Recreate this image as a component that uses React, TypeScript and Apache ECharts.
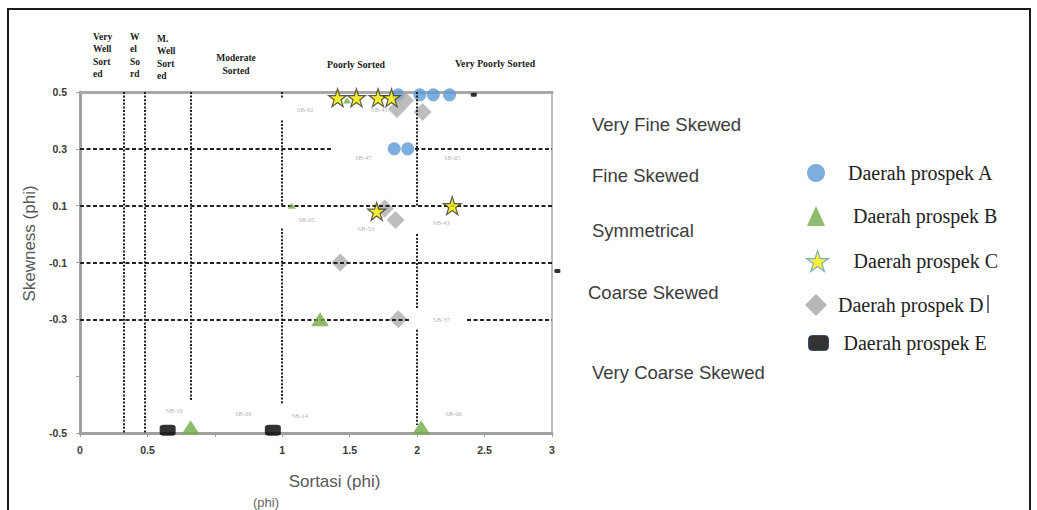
import React, { useEffect, useRef } from "react";
import * as echarts from "echarts";

// ---- data (internal axis units: x 0..3.5, y -0.7..0.5) ----
const seriesNames = [
  "Daerah prospek A",
  "Daerah prospek B",
  "Daerah prospek C",
  "Daerah prospek D",
  "Daerah prospek E",
];

const aX = [2.36, 2.52, 2.62, 2.74, 2.33, 2.43];
const aY = [0.49, 0.49, 0.49, 0.49, 0.3, 0.3];

const bX = [1.98, 1.57, 1.78, 0.82, 2.53];
const bY = [0.47, 0.1, -0.3, -0.68, -0.68];

const cX = [1.91, 2.05, 2.21, 2.31, 2.2, 2.76];
const cY = [0.48, 0.48, 0.48, 0.48, 0.08, 0.1];

const dX = [2.35, 2.41, 2.54, 2.26, 2.34, 1.93, 2.36];
const dY = [0.44, 0.47, 0.43, 0.09, 0.05, -0.1, -0.3];

const eX = [0.65, 1.43, 2.92, 3.54];
const eY = [-0.69, -0.69, 0.49, -0.13];

const sampleNames = ["SB-02", "SB-41", "SB-47", "SB-65", "SB-05", "SB-53", "SB-43", "SB-37", "SB-19", "SB-09", "SB-14", "SB-06"];
const sampleX = [1.67, 2.22, 2.1, 2.76, 1.68, 2.12, 2.68, 2.68, 0.7, 1.21, 1.63, 2.77];
const sampleY = [0.44, 0.44, 0.27, 0.27, 0.05, 0.02, 0.04, -0.3, -0.62, -0.63, -0.64, -0.63];

const xTickLabels = ["0", "0.5", "", "1", "1.5", "2", "2.5", "3"];
const yTickValues = [0.5, 0.3, 0.1, -0.1, -0.3, -0.5, -0.7];
const yTickLabels = ["0.5", "0.3", "0.1", "-0.1", "-0.3", "", "-0.5"];

const sortingClasses = ["Very\nWell\nSort\ned", "W\nel\nSo\nrd", "M.\nWell\nSort\ned", "Moderate\nSorted", "Poorly Sorted", "Very Poorly Sorted"];
const skewClasses = ["Very Fine Skewed", "Fine Skewed", "Symmetrical", "Coarse Skewed", "Very Coarse Skewed"];

// class boundary lines, drawn as segments [x1, y1, x2, y2]
const verticalBounds = [
  [0.326, 0.5, 0.326, -0.7],
  [0.482, 0.5, 0.482, -0.7],
  [0.823, 0.5, 0.823, -0.585],
  [1.498, 0.5, 1.498, 0.48],
  [1.498, 0.4, 1.498, 0.1],
  [1.498, 0.02, 1.498, -0.6],
  [2.499, 0.5, 2.499, 0.1],
  [2.499, 0.0, 2.499, -0.26],
  [2.499, -0.337, 2.499, -0.672],
];
const horizontalBounds = [
  [0, 0.3, 1.876, 0.3],
  [2.484, 0.3, 3.5, 0.3],
  [0, 0.1, 3.5, 0.1],
  [0, -0.1, 3.5, -0.1],
  [0, -0.3, 2.447, -0.3],
  [2.87, -0.3, 3.5, -0.3],
];

const starPath =
  "path://M50,2 L61.2,36.6 L97.6,36.6 L68.2,58 L79.4,92.6 L50,71.2 L20.6,92.6 L31.8,58 L2.4,36.6 L38.8,36.6 Z";

const zip = (xs: number[], ys: number[]) => xs.map((x, i) => [x, ys[i]]);

export default function App() {
  const ref = useRef<HTMLDivElement>(null);

  useEffect(() => {
    if (!ref.current) return;
    const chart = echarts.init(ref.current, null, { renderer: "svg" });

    const smallB = new Set([0, 1]);
    const smallE = new Set([2, 3]);
    const sans = "Liberation Sans";
    const serif = "Liberation Serif";

    const segs = (arr: number[][], type: any, width: number) =>
      arr.map((s) => [
        { coord: [s[0], s[1]], lineStyle: { type, width, color: "#222" } },
        { coord: [s[2], s[3]] },
      ]);

    const legendText = (pad: number) => ({
      fontFamily: serif,
      fontSize: 20,
      color: "#222",
      padding: [0, 0, 0, pad],
    });

    const option: any = {
      animation: false,
      backgroundColor: "#fff",
      grid: {
        left: 80,
        top: 92,
        width: 472,
        height: 341,
        show: true,
        borderColor: "#a8a8a8",
        borderWidth: 1.5,
      },
      xAxis: [
        {
          type: "value",
          min: 0,
          max: 3.5,
          interval: 0.5,
          name: "Sortasi (phi)",
          nameLocation: "middle",
          nameGap: 40,
          nameTextStyle: { fontFamily: sans, fontSize: 17, color: "#595959", padding: [0, 0, 0, 37] },
          axisLine: { onZero: false, lineStyle: { color: "#a0a0a0", width: 3 } },
          axisTick: { show: true, length: 4, lineStyle: { color: "#a0a0a0" } },
          axisLabel: {
            margin: 11,
            fontFamily: sans,
            fontSize: 10.5,
            fontWeight: "bold",
            color: "#3a3a3a",
            formatter: (v: number) => xTickLabels[Math.round(v / 0.5)] ?? "",
          },
          splitLine: { show: false },
        },
        {
          type: "value",
          position: "top",
          min: 0,
          max: 3.5,
          axisLine: { show: true, onZero: false, lineStyle: { color: "#a8a8a8", width: 3 } },
          axisTick: { show: false },
          axisLabel: { show: false },
          splitLine: { show: false },
        },
      ],
      yAxis: {
        type: "value",
        min: -0.7,
        max: 0.5,
        name: "Skewness (phi)",
        nameLocation: "middle",
        nameGap: 42,
        nameTextStyle: { fontFamily: sans, fontSize: 17, color: "#595959", padding: [0, 0, 0, 38] },
        axisLine: { show: true, onZero: false, lineStyle: { color: "#a0a0a0", width: 3 } },
        axisTick: { show: true, length: 4, customValues: yTickValues, lineStyle: { color: "#a0a0a0" } },
        axisLabel: {
          customValues: yTickValues,
          margin: 13,
          fontFamily: sans,
          fontSize: 10.5,
          fontWeight: "bold",
          color: "#3a3a3a",
          formatter: (v: number) => yTickLabels[Math.round((0.5 - v) / 0.2)] ?? "",
        },
        splitLine: { show: false },
      },
      legend: [
        { left: 807, top: 163, itemWidth: 18, itemHeight: 18, pad: 18, icon: "circle", style: { color: "#5B9BD5" } },
        { left: 807, top: 206, itemWidth: 18, itemHeight: 20, pad: 23, icon: "triangle", style: { color: "#70AD47" } },
        { left: 806, top: 250, itemWidth: 22, itemHeight: 22, pad: 20, icon: starPath, style: { color: "#F5F000", borderColor: "#5B9BD5", borderWidth: 1.2 } },
        { left: 805, top: 294, itemWidth: 22, itemHeight: 22, pad: 6, icon: "diamond", style: { color: "#A5A5A5" } },
        { left: 808, top: 333, itemWidth: 20, itemHeight: 15, pad: 10, icon: "roundRect", style: { color: "#000", borderColor: "#1f3864", borderWidth: 1 } },
      ].map((l, i) => ({
        left: l.left,
        top: l.top,
        padding: 0,
        itemWidth: l.itemWidth,
        itemHeight: l.itemHeight,
        selectedMode: false,
        textStyle: legendText(l.pad),
        data: [{ name: seriesNames[i], icon: l.icon, itemStyle: l.style }],
      })),
      series: [
        {
          type: "scatter",
          name: "bounds",
          data: [],
          silent: true,
          z: 1,
          markLine: {
            silent: true,
            symbol: "none",
            label: { show: false },
            animation: false,
            data: [...segs(verticalBounds, [2, 1.6], 2), ...segs(horizontalBounds, [4, 2.5], 2)],
          },
        },
        {
          type: "scatter",
          name: "labels",
          silent: true,
          symbolSize: 0,
          z: 2,
          itemStyle: { color: "#9a9a9a" },
          data: sampleNames.map((n, i) => ({ name: n, value: [sampleX[i], sampleY[i]] })),
          label: {
            show: true,
            position: [0, 0],
            align: "center",
            verticalAlign: "middle",
            formatter: "{b}",
            fontFamily: serif,
            fontSize: 6.5,
            color: "#9a9a9a",
          },
        },
        {
          type: "scatter",
          name: seriesNames[0],
          symbol: "circle",
          symbolSize: 13,
          itemStyle: { color: "#5B9BD5" },
          z: 3,
          data: zip(aX, aY),
        },
        {
          type: "scatter",
          name: seriesNames[3],
          symbol: "diamond",
          symbolSize: 18,
          itemStyle: { color: "#ADADAD" },
          z: 4,
          data: zip(dX, dY),
        },
        {
          type: "scatter",
          name: seriesNames[1],
          symbol: "triangle",
          itemStyle: { color: "#70AD47" },
          z: 5,
          data: zip(bX, bY).map((v, i) => ({ value: v, symbolSize: smallB.has(i) ? [8, 6] : [18, 14] })),
        },
        {
          type: "scatter",
          name: seriesNames[4],
          symbol: "roundRect",
          clip: false,
          itemStyle: { color: "#000" },
          z: 5,
          data: zip(eX, eY).map((v, i) => ({ value: v, symbolSize: smallE.has(i) ? [6, 4] : [16, 11] })),
        },
        {
          type: "scatter",
          name: seriesNames[2],
          symbol: starPath,
          symbolSize: 18,
          itemStyle: { color: "#F2EA00", borderColor: "#333", borderWidth: 1.2 },
          z: 6,
          data: zip(cX, cY),
        },
      ],
      graphic: [
        {
          type: "rect",
          silent: true,
          z: -10,
          shape: { x: 8, y: 9, width: 1022, height: 520 },
          style: { fill: "none", stroke: "#1a1a1a", lineWidth: 2 },
        },
        ...[
          [93, 31, "left"],
          [130, 31, "left"],
          [157, 33, "left"],
        ].map((p, i) => ({
          type: "text",
          silent: true,
          x: p[0] as number,
          y: p[1] as number,
          style: {
            text: sortingClasses[i],
            fontFamily: serif,
            fontWeight: "bold",
            fontSize: 9.5,
            lineHeight: 12.3,
            fill: "#222",
            align: p[2],
            verticalAlign: "top",
          },
        })),
        {
          type: "text",
          silent: true,
          x: 236,
          y: 52,
          style: { text: sortingClasses[3], fontFamily: serif, fontWeight: "bold", fontSize: 9.5, lineHeight: 12.5, fill: "#222", align: "center", verticalAlign: "top" },
        },
        {
          type: "text",
          silent: true,
          x: 356,
          y: 64,
          style: { text: sortingClasses[4], fontFamily: serif, fontWeight: "bold", fontSize: 9.8, fill: "#222", align: "center", verticalAlign: "middle" },
        },
        {
          type: "text",
          silent: true,
          x: 495,
          y: 63,
          style: { text: sortingClasses[5], fontFamily: serif, fontWeight: "bold", fontSize: 9.8, fill: "#222", align: "center", verticalAlign: "middle" },
        },
        ...[
          [592, 124],
          [592, 175],
          [592, 230],
          [588, 292],
          [592, 372],
        ].map((p, i) => ({
          type: "text",
          silent: true,
          x: p[0],
          y: p[1],
          style: { text: skewClasses[i], fontFamily: sans, fontSize: 18.5, fill: "#3c3c3c", align: "left", verticalAlign: "middle" },
        })),
        {
          type: "text",
          silent: true,
          x: 266,
          y: 509,
          style: { text: "(phi)", fontFamily: sans, fontSize: 13, fill: "#666", align: "center", verticalAlign: "bottom" },
        },
        {
          type: "line",
          silent: true,
          shape: { x1: 988, y1: 295, x2: 988, y2: 313 },
          style: { stroke: "#222", lineWidth: 1.2 },
        },
      ],
    };

    chart.setOption(option);
    return () => chart.dispose();
  }, []);

  return (
    <div
      ref={ref}
      style={{ position: "fixed", left: 0, top: 0, width: 1037, height: 510, background: "#fff" }}
    />
  );
}
